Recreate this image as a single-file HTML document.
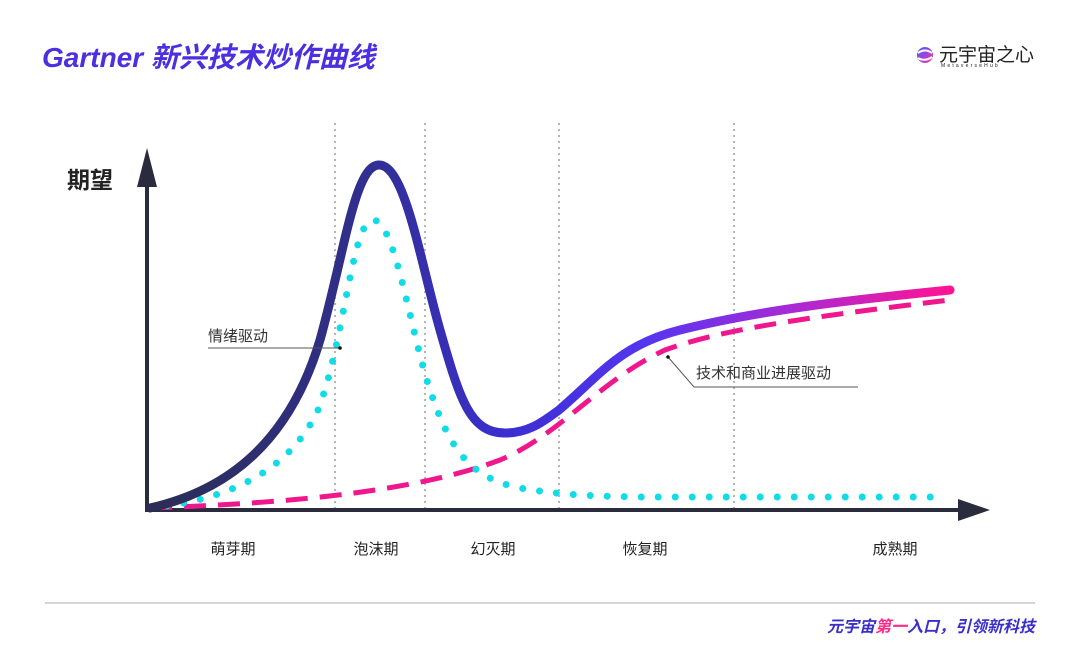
<!DOCTYPE html>
<html><head><meta charset="utf-8"><style>
body{margin:0;background:#fff;}
svg{display:block;}
text{font-family:"Liberation Sans","Noto Sans CJK SC",sans-serif;}
</style></head><body>
<svg width="1080" height="647" viewBox="0 0 1080 647">
<defs>
<linearGradient id="g" gradientUnits="userSpaceOnUse" x1="150" y1="0" x2="950" y2="0">
<stop offset="0" stop-color="#2b2d55"/><stop offset="0.25" stop-color="#302f8a"/>
<stop offset="0.45" stop-color="#3b2fd2"/><stop offset="0.62" stop-color="#5535f0"/>
<stop offset="0.8" stop-color="#a82ad6"/><stop offset="1" stop-color="#ff1493"/>
</linearGradient>
<linearGradient id="lg" x1="0" y1="0" x2="1" y2="1"><stop offset="0" stop-color="#3b6cf0"/><stop offset="0.5" stop-color="#a040e0"/><stop offset="1" stop-color="#ff3a8a"/></linearGradient>
</defs>
<text x="42" y="67" font-size="28" font-weight="bold" font-style="italic" fill="#4b2fe0">Gartner 新兴技术炒作曲线</text>
<circle cx="925" cy="55" r="8" fill="url(#lg)"/>
<path d="M918,53 Q925,48 932,53 M918,58 Q925,62 932,57" stroke="#fff" stroke-width="2" fill="none"/>
<text x="939" y="61" font-size="19" fill="#222">元宇宙之心</text>
<text x="941" y="67" font-size="5" fill="#222" letter-spacing="2.2">MetaverseHub</text>
<g stroke="#b5b5b5" stroke-width="2" stroke-dasharray="2 4">
<line x1="335" y1="123" x2="335" y2="508"/><line x1="425" y1="123" x2="425" y2="508"/>
<line x1="559" y1="123" x2="559" y2="508"/><line x1="734" y1="123" x2="734" y2="508"/>
</g>
<text x="67" y="188" font-size="23" font-weight="bold" fill="#222">期望</text>
<line x1="147" y1="510" x2="147" y2="180" stroke="#2b2b3e" stroke-width="4"/>
<polygon points="147,148 137,187 157,187" fill="#2b2b3e"/>
<line x1="145" y1="510" x2="965" y2="510" stroke="#2b2b3e" stroke-width="4"/>
<polygon points="990,510 958,499 958,521" fill="#2b2b3e"/>
<path d="M150,508 C300,503 420,490 500,460 C560,435 600,380 665,350 C720,330 800,318 950,300" fill="none" stroke="#f0168c" stroke-width="5" stroke-dasharray="22 12"/>
<path d="M150,508 C230,500 290,470 318,410 C345,340 352,220 373,220 C395,220 410,330 430,390 C450,450 470,478 520,488 C560,495 590,496 640,497 L935,497" fill="none" stroke="#12dbe8" stroke-width="7" stroke-linecap="round" stroke-dasharray="0 17"/>
<path d="M150,508 C230,490 290,440 320,340 C345,250 355,165 379,165 C405,165 420,260 440,330 C460,400 470,433 505,433 C530,433 545,420 559,410 C600,375 620,345 680,330 C760,310 850,300 950,290" fill="none" stroke="url(#g)" stroke-width="9" stroke-linecap="round"/>
<text x="208" y="341" font-size="15" fill="#333">情绪驱动</text>
<line x1="208" y1="348" x2="340" y2="348" stroke="#555" stroke-width="1"/>
<circle cx="340" cy="348" r="1.8" fill="#111"/>
<text x="696" y="378" font-size="15" fill="#333">技术和商业进展驱动</text>
<polyline points="668,357 694,387 858,387" fill="none" stroke="#555" stroke-width="1"/>
<circle cx="668" cy="357" r="1.8" fill="#111"/>
<g font-size="15" fill="#222" text-anchor="middle">
<text x="233" y="554">萌芽期</text><text x="376" y="554">泡沫期</text><text x="493" y="554">幻灭期</text>
<text x="645" y="554">恢复期</text><text x="895" y="554">成熟期</text>
</g>
<line x1="45" y1="603" x2="1035" y2="603" stroke="#c8c8c8" stroke-width="1.5"/>
<text x="1035" y="632" font-size="16" font-weight="bold" font-style="italic" fill="#3b2fc9" text-anchor="end">元宇宙<tspan fill="#ff2a8a">第一</tspan>入口，引领新科技</text>
</svg>
</body></html>
